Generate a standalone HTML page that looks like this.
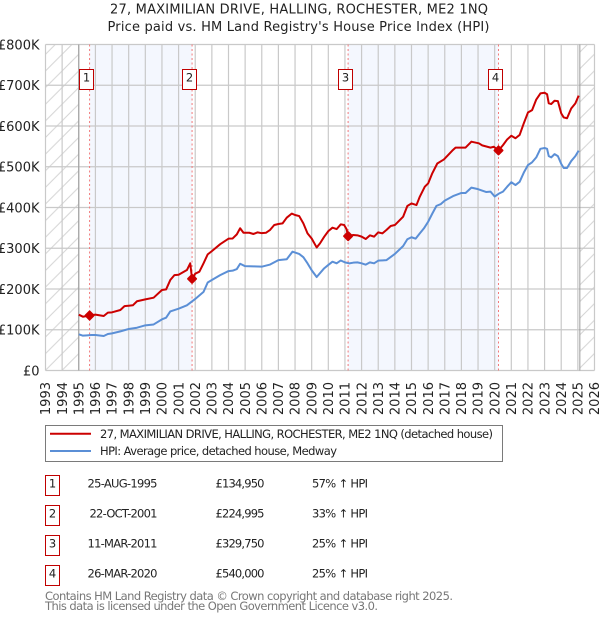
<!DOCTYPE html>
<html lang="en">
<head>
<meta charset="utf-8">
<title>Price paid vs. HPI</title>
<style>
html,body{margin:0;padding:0;background:#fff;}
svg{display:block;font-family:"DejaVu Sans","Liberation Sans",sans-serif;}
text{fill:#222;}
</style>
</head>
<body>
<svg id="chart" width="600" height="620" viewBox="0 0 600 620" xmlns="http://www.w3.org/2000/svg">
  <defs>
    <pattern id="hatch" patternUnits="userSpaceOnUse" width="16.63" height="16.63">
      <path d="M-2 2 L2 -2 M0 16.63 L16.63 0 M14.63 18.63 L18.63 14.63" stroke="#d4d4d4" stroke-width="1" fill="none"/>
    </pattern>
  </defs>
  <text x="299" y="13.5" font-size="13" text-anchor="middle" textLength="378">27, MAXIMILIAN DRIVE, HALLING, ROCHESTER, ME2 1NQ</text>
  <text x="298.5" y="31" font-size="13" text-anchor="middle" textLength="382">Price paid vs. HM Land Registry's House Price Index (HPI)</text>
  <g id="plot"></g>

  <g>
    <rect x="45.5" y="425.5" width="457" height="36" fill="#fff" stroke="#7a7a7a" stroke-width="1"/>
    <line x1="50" x2="91" y1="433.8" y2="433.8" stroke="#cc0000" stroke-width="2"/>
    <text x="100" y="438" font-size="11.5" textLength="393">27, MAXIMILIAN DRIVE, HALLING, ROCHESTER, ME2 1NQ (detached house)</text>
    <line x1="50" x2="91" y1="451" y2="451" stroke="#5b8fd6" stroke-width="2"/>
    <text x="100" y="455" font-size="11.5" textLength="237">HPI: Average price, detached house, Medway</text>
  </g>

  <g font-size="11.5">
    <g>
      <rect x="45.5" y="475.5" width="14" height="20" fill="#fff" stroke="#c00000" stroke-width="1"/>
      <text x="52.5" y="487.3" text-anchor="middle">1</text>
      <text x="157.5" y="487.3" text-anchor="end" textLength="70">25-AUG-1995</text>
      <text x="215.5" y="487.3" textLength="49">£134,950</text>
      <text x="312" y="487.3" textLength="56">57% ↑ HPI</text>
    </g>
    <g>
      <rect x="45.5" y="505.5" width="14" height="20" fill="#fff" stroke="#c00000" stroke-width="1"/>
      <text x="52.5" y="517.3" text-anchor="middle">2</text>
      <text x="157.5" y="517.3" text-anchor="end" textLength="68">22-OCT-2001</text>
      <text x="215.5" y="517.3" textLength="49">£224,995</text>
      <text x="312" y="517.3" textLength="56">33% ↑ HPI</text>
    </g>
    <g>
      <rect x="45.5" y="535.5" width="14" height="20" fill="#fff" stroke="#c00000" stroke-width="1"/>
      <text x="52.5" y="547.3" text-anchor="middle">3</text>
      <text x="157.5" y="547.3" text-anchor="end" textLength="70">11-MAR-2011</text>
      <text x="215.5" y="547.3" textLength="49">£329,750</text>
      <text x="312" y="547.3" textLength="56">25% ↑ HPI</text>
    </g>
    <g>
      <rect x="45.5" y="565.5" width="14" height="20" fill="#fff" stroke="#c00000" stroke-width="1"/>
      <text x="52.5" y="577.3" text-anchor="middle">4</text>
      <text x="157.5" y="577.3" text-anchor="end" textLength="70">26-MAR-2020</text>
      <text x="215.5" y="577.3" textLength="49">£540,000</text>
      <text x="312" y="577.3" textLength="56">25% ↑ HPI</text>
    </g>
  </g>

  <text x="45" y="600" font-size="11.5" style="fill:#777" textLength="408">Contains HM Land Registry data © Crown copyright and database right 2025.</text>
  <text x="45" y="610" font-size="11.5" style="fill:#777" textLength="333">This data is licensed under the Open Government Licence v3.0.</text>
</svg>
<script>
const yearTicks = [1993,1994,1995,1996,1997,1998,1999,2000,2001,2002,2003,2004,2005,2006,2007,2008,2009,2010,2011,2012,2013,2014,2015,2016,2017,2018,2019,2020,2021,2022,2023,2024,2025,2026];
const valueTicks = [0,100,200,300,400,500,600,700,800];
const valueTickLabels = ['£0','£100K','£200K','£300K','£400K','£500K','£600K','£700K','£800K'];

const saleNumbers = ['1','2','3','4'];
const saleDates = [1995.65,2001.81,2011.19,2020.23];
const salePrices = [134.95,224.995,329.75,540];

const paidDates = [1995,1995.25,1995.65,1996,1996.5,1996.75,1997,1997.5,1997.75,1998,1998.25,1998.5,1999,1999.5,2000,2000.25,2000.5,2000.75,2001,2001.5,2001.7,2001.81,2002,2002.25,2002.5,2002.75,2003,2003.5,2004,2004.25,2004.5,2004.7,2004.9,2005.25,2005.5,2005.75,2006,2006.25,2006.5,2006.75,2007,2007.25,2007.5,2007.8,2008,2008.25,2008.5,2008.75,2009,2009.3,2009.5,2009.75,2010,2010.25,2010.5,2010.75,2010.95,2011.1,2011.19,2011.5,2011.75,2012,2012.25,2012.5,2012.75,2013,2013.25,2013.5,2013.75,2014,2014.5,2014.75,2015,2015.3,2015.5,2015.8,2016,2016.25,2016.55,2016.95,2017.45,2017.65,2018.25,2018.6,2019.05,2019.25,2019.75,2019.95,2020.23,2020.5,2020.75,2021,2021.25,2021.5,2021.75,2022,2022.25,2022.5,2022.75,2023,2023.15,2023.25,2023.4,2023.6,2023.8,2024,2024.15,2024.35,2024.6,2024.85,2025.05];
const paidValues = [137,132,134.95,137,133.7,142,142.7,148.5,158,159,160,170,174.6,178.7,197.5,199,222,234,235,246.6,263,225,237.6,242.5,263,285,293,310,323.5,324,334,349,338,338,335,339,337,338,345,357,359.5,361,375,385,381.6,379,361,336.6,324,302,312,328,342,350.5,347,358.7,357,346.5,329.75,332.5,331.7,328.5,322.7,331.7,328.5,339,336.6,345,354.6,357,377.5,403.7,410,406,426.6,451,459,484,508,518,539.5,547,547,561.5,557.5,552.5,547,549,540,553,567,576,570,578,606.5,633,639,665,680,681.7,678,655.6,654,662,661,631,621,619,643,655.6,674.5];

const hpiDates = [1995,1995.25,1995.5,1995.75,1996,1996.25,1996.5,1996.75,1997,1997.5,1998,1998.5,1999,1999.5,2000,2000.25,2000.5,2001,2001.5,2002,2002.5,2002.75,2003,2003.5,2004,2004.25,2004.5,2004.7,2005,2005.5,2006,2006.5,2007,2007.5,2007.85,2008.25,2008.5,2008.75,2009,2009.3,2009.75,2010,2010.25,2010.5,2010.75,2011,2011.25,2011.5,2011.75,2012,2012.25,2012.5,2012.75,2013,2013.5,2014,2014.5,2014.75,2015,2015.25,2015.5,2015.75,2016,2016.25,2016.5,2016.75,2017,2017.5,2018,2018.25,2018.6,2019,2019.5,2019.75,2020,2020.25,2020.5,2020.75,2021,2021.25,2021.5,2021.75,2022,2022.25,2022.5,2022.75,2023,2023.15,2023.25,2023.4,2023.6,2023.8,2024,2024.15,2024.35,2024.6,2024.85,2025.05];
const hpiValues = [88.8,85.5,86.3,87,87,86,84.7,89.6,91.2,96,101.8,105,110.8,113,125.5,129.6,145,151.7,160,175.5,193,216,222,234,244,245,249,262,256,255.6,254.8,260,271,273,291.6,286,278,263,246,229.4,250.7,259,267,263,270,265.4,263,264.6,265.4,263,259.7,265.4,263,269.5,271,286,305.6,322,327,323.5,336.6,349,365,385,404,408,417,428,435.6,435.6,448.7,445,438,439,427,434,439,451,462,455,463,485.5,504,511,523,544,546,544,526,523,531,526,507,497,497,514,526,539.5];

const NS = 'http://www.w3.org/2000/svg';
const plot = document.getElementById('plot');
const xScale = function (year) { return 45.5 + (year - 1993) * 16.636; };
const yScale = function (value) { return 370.5 - value * 0.4075; };
const seriesPath = function (dates, values) {
  return dates.map(function (d, i) { return (i ? 'L' : 'M') + xScale(d).toFixed(2) + ' ' + yScale(values[i]).toFixed(2); }).join(' ');
};
const make = function (tag, attrs, parent) {
  const el = document.createElementNS(NS, tag);
  Object.keys(attrs).forEach(function (k) { el.setAttribute(k, attrs[k]); });
  (parent || plot).appendChild(el);
  return el;
};

const xMin = yearTicks[0];
const xMax = yearTicks[yearTicks.length - 1];
const vMax = valueTicks[valueTicks.length - 1];
const yTop = yScale(vMax);
const yBottom = yScale(0);

// hatched out-of-range regions
[[xMin, 1995], [2025.12, xMax]].forEach(function (r) {
  const hatchRect = make('rect', {x: xScale(r[0]), y: yTop, width: xScale(r[1]) - xScale(r[0]), height: yBottom - yTop, fill: 'url(#hatch)'});
  
  
});

// shaded bands between sales
[[0, 1], [2, 3]].forEach(function (p) {
  const band = make('rect', {x: xScale(saleDates[p[0]]), y: yTop, width: xScale(saleDates[p[1]]) - xScale(saleDates[p[0]]), height: yBottom - yTop, fill: '#f4f7fe'});
  
  
});

// grid
yearTicks.forEach(function (yr) {
  const grid = make('line', {x1: xScale(yr), x2: xScale(yr), y1: yTop, y2: yBottom, stroke: '#c9c9c9', 'stroke-width': 1.2});
  
  
  const label = make('text', {transform: 'translate(' + (xScale(yr) + 4.7) + ',382) rotate(-90)', 'font-size': 13, 'text-anchor': 'end'});
  
  
  label.textContent = String(yr);
});
valueTicks.forEach(function (v, i) {
  const grid = make('line', {x1: xScale(xMin), x2: xScale(xMax), y1: yScale(v), y2: yScale(v), stroke: '#c9c9c9', 'stroke-width': 1.2});
  
  
  const label = make('text', {x: 39.5, y: yScale(v) + 4.8, 'font-size': 13, 'text-anchor': 'end'});
  
  
  label.textContent = valueTickLabels[i];
});

// data range limits
[1995, 2025.12].forEach(function (yr) {
  const limit = make('line', {x1: xScale(yr), x2: xScale(yr), y1: yTop, y2: yBottom, stroke: '#9a9a9a', 'stroke-width': 1});
  
  
});

// sale date guides
saleDates.forEach(function (d) {
  const guide = make('line', {x1: xScale(d), x2: xScale(d), y1: yTop, y2: yBottom, stroke: '#f27a7a', 'stroke-width': 1, 'stroke-dasharray': '2 2.5'});
  
  
});

// series
const hpiLine = make('path', {d: seriesPath(hpiDates, hpiValues), fill: 'none', stroke: '#5b8fd6', 'stroke-width': 2, 'stroke-linejoin': 'round'});


const paidLine = make('path', {d: seriesPath(paidDates, paidValues), fill: 'none', stroke: '#cc0000', 'stroke-width': 2, 'stroke-linejoin': 'round'});



// sale markers and number badges
saleDates.forEach(function (d, i) {
  const mx = xScale(d);
  const my = yScale(salePrices[i]);
  const diamond = [[mx, my - 4], [mx + 4, my], [mx, my + 4], [mx - 4, my]].map(function (p) { return p[0].toFixed(2) + ',' + p[1].toFixed(2); }).join(' ');
  const marker = make('polygon', {points: diamond, fill: '#cc0000', stroke: '#cc0000', 'stroke-width': 2, 'stroke-linejoin': 'round'});
  
  
  const cx = Math.round(xScale(d) - 3.2) + 0.5;
  const badge = make('rect', {x: cx - 7, y: 69.5, width: 14, height: 20, fill: '#fff', stroke: '#c00000', 'stroke-width': 1});
  
  
  const num = make('text', {x: cx, y: 81.3, 'font-size': 11.5, 'text-anchor': 'middle'});
  
  
  num.textContent = saleNumbers[i];
});
</script>
</body>
</html>
